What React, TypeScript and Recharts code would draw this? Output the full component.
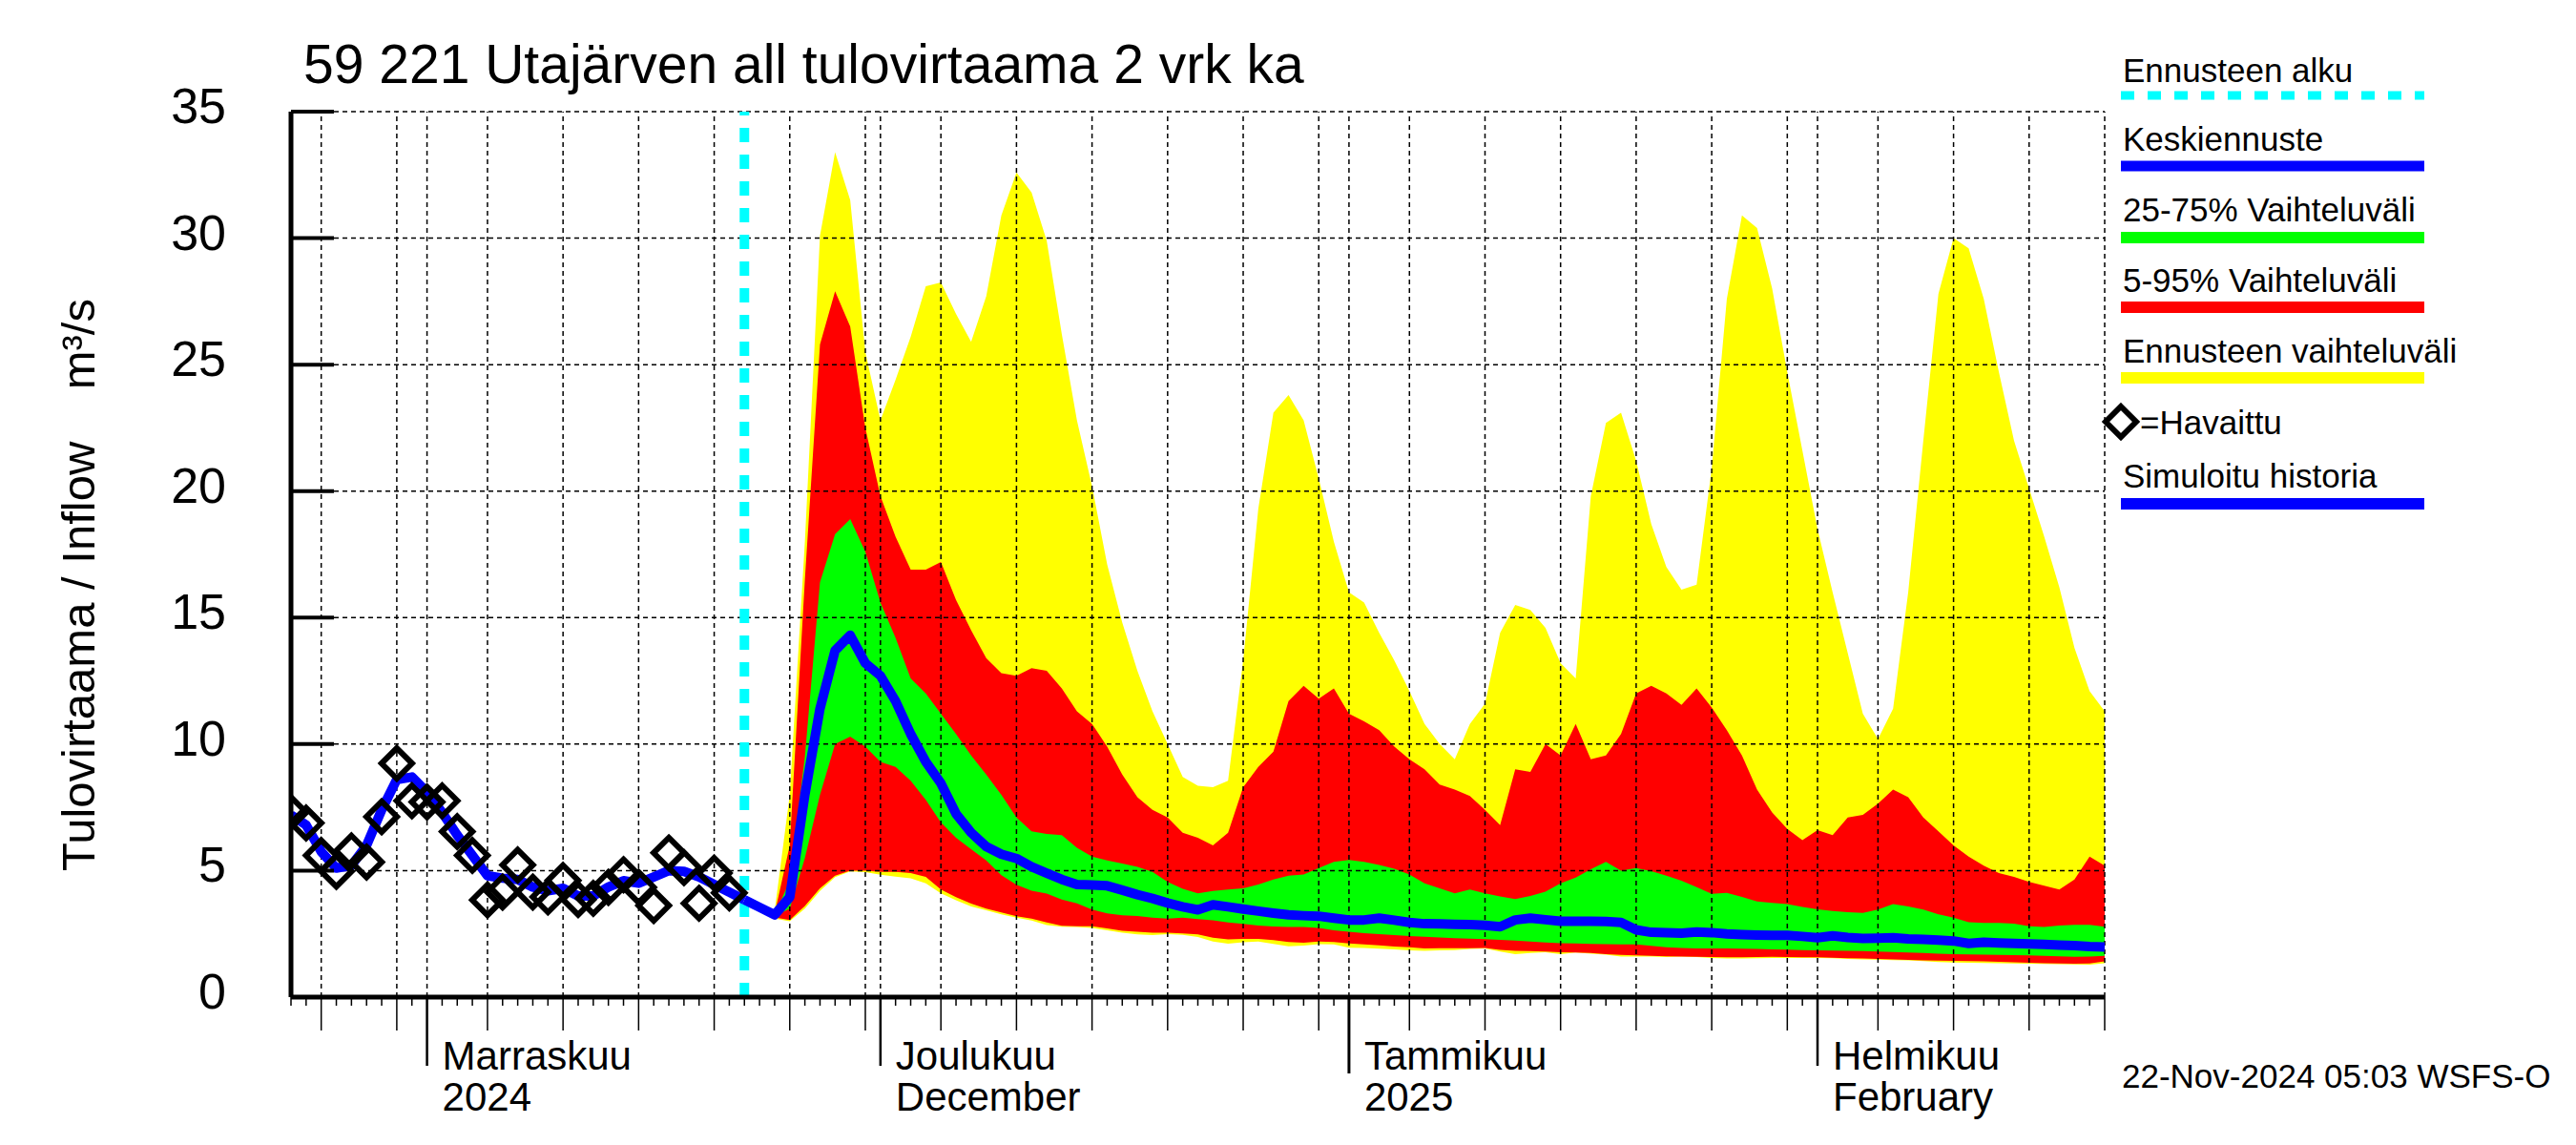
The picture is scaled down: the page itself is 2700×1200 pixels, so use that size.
import React from 'react';
import { ComposedChart, Area, Line, XAxis, YAxis, ReferenceLine } from 'recharts';

const FONT = '"Liberation Sans", Arial, Helvetica, sans-serif';

// Day 0 = 23 Oct 2024, day 120 = 20 Feb 2025
const observed = [7.3, 6.88, 5.6, 4.97, 5.78, 5.34, 7.13, 9.24, 7.76, 7.71, 7.76, 6.54, 5.6, 3.84, 4.15, 5.22, 4.15, 3.96, 4.61, 3.86, 3.9, 4.34, 4.84, 4.34, 3.62, 5.7, 5.12, 3.71, 4.9, 4.12];

const simulated = [7.2, 6.8, 5.75, 5.1, 5.2, 6.0, 7.4, 8.6, 8.7, 8.1, 7.3, 6.4, 5.6, 4.8, 4.7, 4.65, 4.35, 4.2, 4.3, 4.0, 4.0, 4.35, 4.6, 4.5, 4.75, 5.0, 4.97, 4.75, 4.45, 4.15, 3.85];

const MED_START = 30;
const median = [
  3.85, 3.55, 3.25, 3.95, 8.0, 11.4, 13.7, 14.3, 13.2, 12.7,
  11.7, 10.4, 9.3, 8.45, 7.25, 6.5, 5.95, 5.65, 5.48, 5.15,
  4.9, 4.65, 4.45, 4.43, 4.4, 4.23, 4.05, 3.9, 3.72, 3.57,
  3.45, 3.65, 3.57, 3.48, 3.4, 3.32, 3.25, 3.22, 3.2, 3.12,
  3.05, 3.05, 3.12, 3.04, 2.95, 2.9, 2.89, 2.88, 2.87, 2.84,
  2.78, 3.05, 3.12, 3.06, 3.0, 3.0, 3.0, 2.99, 2.95, 2.66,
  2.56, 2.55, 2.53, 2.57, 2.55, 2.5, 2.47, 2.45, 2.44, 2.44,
  2.4, 2.35, 2.42, 2.36, 2.32, 2.33, 2.35, 2.3, 2.28, 2.25,
  2.22, 2.12, 2.17, 2.14, 2.12, 2.1, 2.08, 2.06, 2.04, 2.0, 1.98,
];

const FC_START = 32;
const ensMax = [
  3.4, 8.0, 18.0, 30.1, 33.4, 31.5, 25.5, 22.8, 24.4, 26.1,
  28.1, 28.25, 27.0, 25.9, 27.7, 30.9, 32.6, 31.8, 29.9, 26.2,
  22.8, 20.2, 17.1, 14.8, 12.9, 11.3, 10.0, 8.7, 8.35, 8.3,
  8.55, 13.3, 19.3, 23.1, 23.8, 22.8, 20.5, 18.0, 16.0, 15.6,
  14.4, 13.3, 12.1, 10.8, 10.0, 9.4, 10.8, 11.6, 14.4, 15.5,
  15.3, 14.6, 13.2, 12.6, 19.8, 22.7, 23.1, 21.2, 18.7, 17.0,
  16.1, 16.3, 20.9, 27.6, 30.9, 30.4, 28.0, 24.7, 21.6, 18.5,
  16.0, 13.6, 11.2, 10.2, 11.4, 16.0, 22.0, 27.8, 30.0, 29.6,
  27.6, 24.7, 22.0, 20.1, 18.2, 16.2, 13.8, 12.1, 11.3,
];
const p95 = [
  3.3, 6.0, 16.5, 25.8, 27.9, 26.5, 22.5, 19.8, 18.2, 16.9,
  16.9, 17.2, 15.7, 14.5, 13.4, 12.8, 12.7, 13.0, 12.9, 12.2,
  11.3, 10.8, 9.9, 8.8, 7.9, 7.4, 7.1, 6.5, 6.3, 6.0,
  6.5, 8.3, 9.1, 9.7, 11.7, 12.3, 11.8, 12.2, 11.2, 10.9,
  10.55, 9.9, 9.4, 9.0, 8.4, 8.2, 7.95, 7.4, 6.8, 9.0,
  8.9, 10.0, 9.55, 10.8, 9.4, 9.55, 10.4, 12.0, 12.3, 12.0,
  11.55, 12.2, 11.45, 10.55, 9.55, 8.2, 7.3, 6.65, 6.2, 6.6,
  6.4, 7.1, 7.2, 7.65, 8.2, 7.9, 7.1, 6.55, 6.0, 5.55,
  5.2, 4.9, 4.75, 4.55, 4.4, 4.25, 4.65, 5.55, 5.2,
];
const p75 = [
  3.25, 4.6, 9.5, 16.4, 18.3, 18.9, 17.6, 15.6, 14.2, 12.6,
  12.0, 11.2, 10.4, 9.55, 8.8, 8.0, 7.1, 6.55, 6.45, 6.4,
  5.9, 5.55, 5.4, 5.28, 5.15, 4.95, 4.55, 4.28, 4.1, 4.2,
  4.25, 4.3, 4.45, 4.65, 4.8, 4.85, 5.1, 5.35, 5.42, 5.35,
  5.22, 5.07, 4.85, 4.5, 4.3, 4.1, 4.25, 4.1, 3.98, 3.88,
  4.0, 4.17, 4.5, 4.72, 5.05, 5.35, 5.0, 5.1, 4.98, 4.8,
  4.6, 4.35, 4.08, 4.12, 3.96, 3.78, 3.72, 3.68, 3.56, 3.47,
  3.4, 3.36, 3.33, 3.46, 3.68, 3.58, 3.46, 3.27, 3.14, 2.96,
  2.93, 2.93, 2.9, 2.8, 2.77, 2.83, 2.86, 2.86, 2.78,
];
const p25 = [
  3.2, 3.5, 5.5, 8.0, 10.0, 10.3, 9.9, 9.3, 9.1, 8.55,
  7.8, 6.9, 6.3, 5.85, 5.4, 4.82, 4.44, 4.21, 4.09, 3.86,
  3.71, 3.46, 3.31, 3.23, 3.21, 3.14, 3.1, 3.14, 3.08, 3.04,
  2.95, 2.89, 2.83, 2.79, 2.77, 2.77, 2.73, 2.64, 2.58, 2.53,
  2.49, 2.45, 2.41, 2.39, 2.36, 2.33, 2.31, 2.29, 2.26, 2.23,
  2.2, 2.16, 2.13, 2.12, 2.1, 2.09, 2.08, 2.08, 2.03, 1.97,
  1.94, 1.92, 1.92, 1.92, 1.91, 1.9, 1.89, 1.88, 1.86, 1.85,
  1.84, 1.83, 1.82, 1.8, 1.78, 1.76, 1.74, 1.72, 1.7, 1.69,
  1.68, 1.67, 1.66, 1.65, 1.63, 1.61, 1.59, 1.6, 1.63,
];
const p5 = [
  3.15, 3.05, 3.6, 4.3, 4.8, 5.0, 5.0, 4.95, 4.95, 4.9,
  4.75, 4.25, 3.95, 3.7, 3.5, 3.35, 3.2, 3.1, 2.95, 2.82,
  2.8, 2.8, 2.72, 2.62, 2.58, 2.55, 2.55, 2.52, 2.48, 2.35,
  2.28, 2.3, 2.3, 2.25, 2.18, 2.15, 2.2, 2.18, 2.12, 2.08,
  2.05, 2.0, 1.97, 1.92, 1.93, 1.93, 1.93, 1.94, 1.87, 1.83,
  1.82, 1.8, 1.77, 1.76, 1.74, 1.7, 1.67, 1.65, 1.63, 1.61,
  1.6, 1.59, 1.58, 1.57, 1.57, 1.58, 1.59, 1.58, 1.57, 1.57,
  1.56, 1.54, 1.53, 1.51, 1.49, 1.47, 1.45, 1.44, 1.43, 1.42,
  1.41, 1.4, 1.38, 1.36, 1.34, 1.33, 1.32, 1.33, 1.41,
];
const ensMin = [
  3.1, 3.0, 3.5, 4.2, 4.74, 4.97, 4.94, 4.84, 4.76, 4.7,
  4.5, 4.1, 3.83, 3.58, 3.43, 3.27, 3.14, 3.03, 2.85, 2.78,
  2.77, 2.73, 2.64, 2.55, 2.48, 2.45, 2.49, 2.46, 2.38, 2.2,
  2.11, 2.17, 2.2, 2.1, 2.01, 2.04, 2.09, 2.08, 1.95, 1.94,
  1.91, 1.89, 1.85, 1.83, 1.85, 1.86, 1.9, 1.92, 1.8, 1.7,
  1.74, 1.77, 1.7, 1.76, 1.72, 1.68, 1.6, 1.6, 1.6, 1.58,
  1.6, 1.58, 1.55, 1.53, 1.53, 1.54, 1.55, 1.55, 1.55, 1.55,
  1.54, 1.51, 1.49, 1.48, 1.46, 1.45, 1.42, 1.39, 1.37, 1.36,
  1.35, 1.34, 1.33, 1.32, 1.31, 1.3, 1.29, 1.28, 1.34,
];

const FORECAST_START_DAY = 30;
const X_DOMAIN = [0, 120];
const yTicks = [0, 5, 10, 15, 20, 25, 30, 35];
const gridYValues = [5, 10, 15, 20, 25, 30, 35];
const gridDays = [2, 7, 9, 13, 18, 23, 28, 33, 38, 39, 43, 48, 53, 58, 63, 68, 70, 74, 79, 84, 89, 94, 99, 101, 105, 110, 115, 120];
const monthDays = [9, 39, 70, 101];
const monthLabels = ['Marraskuu', 'Joulukuu', 'Tammikuu', 'Helmikuu'];
const monthSubLabels = ['2024', 'December', '2025', 'February'];
const yearStartDay = 70;
const allDays = Array.from({ length: X_DOMAIN[1] - X_DOMAIN[0] + 1 }, (_, i) => X_DOMAIN[0] + i);

const title = '59 221 Utajärven all tulovirtaama 2 vrk ka';
const yLabel = 'Tulovirtaama / Inflow    m³/s';
const stamp = '22-Nov-2024 05:03 WSFS-O';

const data = allDays.map((d) => {
  const f = d - FC_START;
  const inF = f >= 0 && f < ensMax.length;
  return {
    day: d,
    obs: d < observed.length ? observed[d] : null,
    sim: d < simulated.length ? simulated[d] : null,
    med: d >= MED_START && d - MED_START < median.length ? median[d - MED_START] : null,
    ens: inF ? [ensMin[f], ensMax[f]] : null,
    r90: inF ? [p5[f], p95[f]] : null,
    r50: inF ? [p25[f], p75[f]] : null,
  };
});

const XTick = (props: any) => {
  const { x, y, payload } = props;
  const d = payload.value;
  const mi = monthDays.indexOf(d);
  let len = 9;
  let w = 1.5;
  if (gridDays.includes(d)) len = 35;
  if (mi >= 0) { len = 72; w = 2.5; }
  if (d === yearStartDay) { len = 80; w = 3; }
  return (
    <g>
      <line x1={x} x2={x} y1={y} y2={y + len} stroke="#000" strokeWidth={w} />
      {mi >= 0 && (
        <g fontFamily={FONT} fontSize={42} fill="#000">
          <text x={x + 16} y={y + 76}>{monthLabels[mi]}</text>
          <text x={x + 16} y={y + 119}>{monthSubLabels[mi]}</text>
        </g>
      )}
    </g>
  );
};

const YTick = (props: any) => {
  const { x, y, payload } = props;
  return (
    <g>
      <line x1={x} x2={x + 45} y1={y} y2={y} stroke="#000" strokeWidth={4} />
      <text x={x - 68} y={y + 12} textAnchor="end" fontFamily={FONT} fontSize={52} fill="#000">
        {payload.value}
      </text>
    </g>
  );
};

const Diamond = (props: any) => {
  const { cx, cy, index } = props;
  if (cx == null || cy == null || props.value == null) return <g key={`dm${index}`} />;
  const r = 16;
  return (
    <path
      key={`dm${index}`}
      d={`M${cx},${cy - r} L${cx + r},${cy} L${cx},${cy + r} L${cx - r},${cy} Z`}
      fill="none"
      stroke="#000"
      strokeWidth={6}
    />
  );
};

const legendRows = [
  { label: 'Ennusteen alku', textY: 86, lineY: 100, color: '#00FFFF', w: 9, dash: '14 14' },
  { label: 'Keskiennuste', textY: 158, lineY: 174, color: '#0000FF', w: 11 },
  { label: '25-75% Vaihteluväli', textY: 232, lineY: 249, color: '#00FF00', w: 12 },
  { label: '5-95% Vaihteluväli', textY: 306, lineY: 322, color: '#FF0000', w: 12 },
  { label: 'Ennusteen vaihteluväli', textY: 380, lineY: 396, color: '#FFFF00', w: 12 },
  { label: 'Simuloitu historia', textY: 511, lineY: 528, color: '#0000FF', w: 12 },
];

const Overlay = () => (
  <svg
    width={2700}
    height={1200}
    style={{ position: 'absolute', left: 0, top: 0, pointerEvents: 'none' }}
  >
    <text x={318} y={87} fontFamily={FONT} fontSize={57} fill="#000">{title}</text>
    <text
      transform="translate(99, 613) rotate(-90)"
      textAnchor="middle"
      fontFamily={FONT}
      fontSize={49}
      fill="#000"
      xmlSpace="preserve"
      style={{ whiteSpace: 'pre' }}
    >
      {yLabel}
    </text>
    {legendRows.map((r) => (
      <g key={r.label}>
        <text x={2225} y={r.textY} fontFamily={FONT} fontSize={35} fill="#000">{r.label}</text>
        <line x1={2223} x2={2541} y1={r.lineY} y2={r.lineY} stroke={r.color} strokeWidth={r.w} strokeDasharray={r.dash} />
      </g>
    ))}
    <path d="M2223,426 L2239,442 L2223,458 L2207,442 Z" fill="none" stroke="#000" strokeWidth={6} />
    <text x={2243} y={455} fontFamily={FONT} fontSize={35} fill="#000">=Havaittu</text>
    <text x={2224} y={1140} fontFamily={FONT} fontSize={35} fill="#000">{stamp}</text>
  </svg>
);

export default function App() {
  return (
    <div style={{ position: 'absolute', left: 0, top: 0, width: 2700, height: 1200, background: '#fff' }}>
      <ComposedChart
        width={2700}
        height={1200}
        data={data}
        margin={{ top: 117, right: 494, bottom: 0, left: 0 }}
      >
        <XAxis
          dataKey="day"
          type="number"
          domain={X_DOMAIN}
          ticks={allDays}
          interval={0}
          height={155}
          allowDataOverflow
          tickLine={false}
          tickSize={0}
          tickMargin={0}
          axisLine={{ stroke: '#000', strokeWidth: 5 }}
          tick={(p: any) => <XTick {...p} />}
        />
        <YAxis
          type="number"
          domain={[0, 35]}
          ticks={yTicks}
          interval={0}
          width={305}
          allowDataOverflow
          tickLine={false}
          tickSize={0}
          tickMargin={0}
          axisLine={{ stroke: '#000', strokeWidth: 5 }}
          tick={(p: any) => <YTick {...p} />}
        />
        <Area dataKey="ens" type="linear" stroke="none" fill="#FFFF00" fillOpacity={1} isAnimationActive={false} connectNulls={false} />
        <Area dataKey="r90" type="linear" stroke="none" fill="#FF0000" fillOpacity={1} isAnimationActive={false} connectNulls={false} />
        <Area dataKey="r50" type="linear" stroke="none" fill="#00FF00" fillOpacity={1} isAnimationActive={false} connectNulls={false} />
        {gridYValues.map((v) => (
          <ReferenceLine key={`gy${v}`} y={v} stroke="#000" strokeWidth={1.5} strokeDasharray="5 4" />
        ))}
        {gridDays.map((d) => (
          <ReferenceLine key={`gx${d}`} x={d} stroke="#000" strokeWidth={1.5} strokeDasharray="5 4" />
        ))}
        <ReferenceLine x={FORECAST_START_DAY} stroke="#00FFFF" strokeWidth={10} strokeDasharray="15 13" />
        <Line dataKey="sim" type="linear" stroke="#0000FF" strokeWidth={10} dot={false} activeDot={false} isAnimationActive={false} connectNulls={false} strokeLinejoin="round" />
        <Line dataKey="med" type="linear" stroke="#0000FF" strokeWidth={10} dot={false} activeDot={false} isAnimationActive={false} connectNulls={false} strokeLinejoin="round" />
        <Line dataKey="obs" type="linear" stroke="none" dot={Diamond} activeDot={false} isAnimationActive={false} />
      </ComposedChart>
      <Overlay />
    </div>
  );
}
